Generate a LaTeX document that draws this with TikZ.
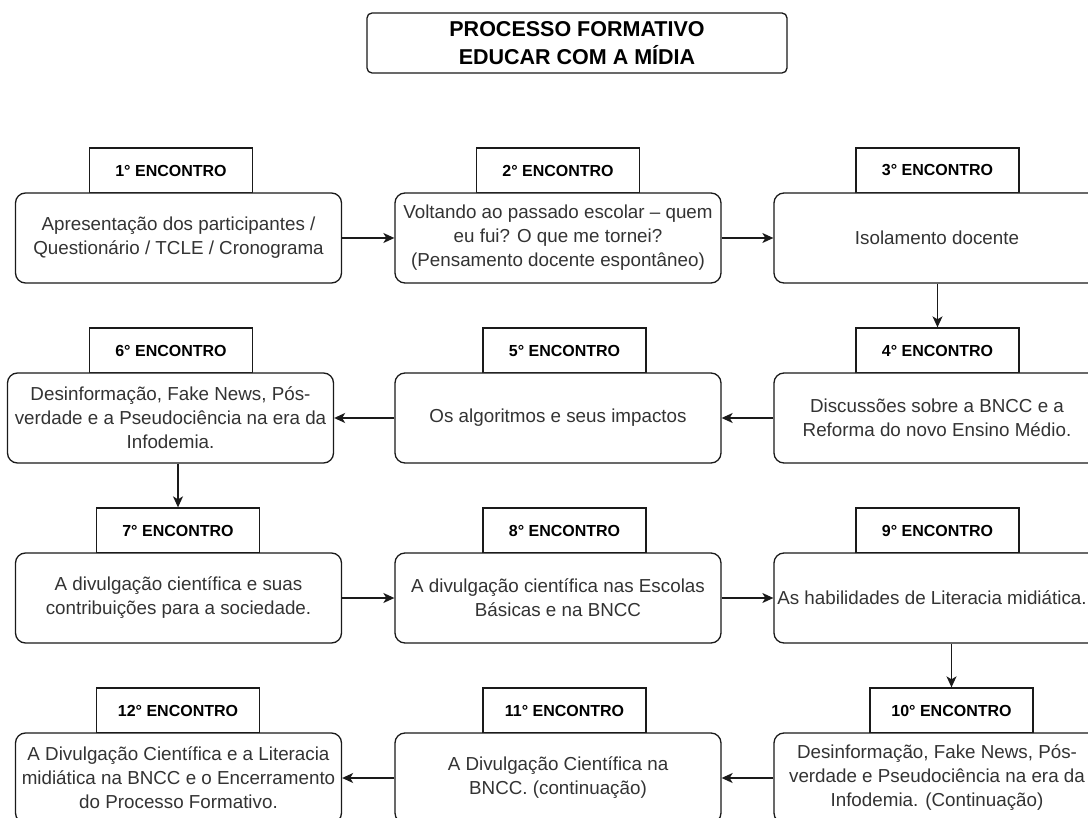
\documentclass[tikz,border=0pt]{standalone}
\usepackage{fontspec}
\setmainfont{Liberation Sans}
\usetikzlibrary{arrows.meta}
\definecolor{linec}{HTML}{1A1A1A}
\definecolor{textc}{HTML}{333333}
\tikzset{
  mainbox/.style={draw=linec, line width=1.3pt, rounded corners=10pt, fill=white,
    minimum width=326pt, minimum height=90pt, inner sep=0pt, align=center,
    text=textc, font=\fontsize{18.8}{24}\selectfont},
  labelbox/.style={draw=linec, line width=1.3pt, fill=white,
    minimum width=163pt, minimum height=45pt, inner sep=0pt, align=center,
    text=black, font=\fontsize{16}{19}\selectfont\bfseries},
  titlebox/.style={draw=linec, line width=1.3pt, rounded corners=5pt, fill=white,
    minimum width=420pt, minimum height=60pt, inner sep=0pt, align=center,
    text=black, font=\fontsize{21.5}{28}\selectfont\bfseries},
  flow/.style={draw=linec, line width=1.3pt, -{Stealth[length=11pt,width=10pt,inset=3pt]}}
}
\begin{document}
\begin{tikzpicture}[x=1pt,y=-1pt]
\useasboundingbox (0,0) rectangle (1088,818);
\clip (0,0) rectangle (1088,818);
\fill[white] (0,0) rectangle (1088,818);

\node[titlebox] (title) at (577,43) {PROCESSO FORMATIVO\\EDUCAR COM A MÍDIA};

% row 1
\node[labelbox] (l1) at (171,170.5) {1° ENCONTRO};
\node[mainbox] (m1) at (178.5,238) {Apresentação dos participantes /\\Questionário / TCLE / Cronograma};
\node[labelbox] (l2) at (558,170.5) {2° ENCONTRO};
\node[mainbox] (m2) at (558,238) {Voltando ao passado escolar – quem\\eu fui? O que me tornei?\\(Pensamento docente espontâneo)};
\node[labelbox] (l3) at (937.5,170.5) {3° ENCONTRO};
\node[mainbox] (m3) at (937,238) {Isolamento docente};

% row 2
\node[labelbox] (l6) at (171,350.5) {6° ENCONTRO};
\node[mainbox] (m6) at (170.5,418) {Desinformação, Fake News, Pós-\\verdade e a Pseudociência na era da\\Infodemia.};
\node[labelbox] (l5) at (564.5,350.5) {5° ENCONTRO};
\node[mainbox] (m5) at (558,418) {Os algoritmos e seus impactos};
\node[labelbox] (l4) at (937.5,350.5) {4° ENCONTRO};
\node[mainbox] (m4) at (937,418) {Discussões sobre a BNCC e a\\Reforma do novo Ensino Médio.};

% row 3
\node[labelbox] (l7) at (178,530.5) {7° ENCONTRO};
\node[mainbox] (m7) at (178.5,598) {A divulgação científica e suas\\contribuições para a sociedade.};
\node[labelbox] (l8) at (564.5,530.5) {8° ENCONTRO};
\node[mainbox] (m8) at (558,598) {A divulgação científica nas Escolas\\Básicas e na BNCC};
\node[labelbox] (l9) at (937.5,530.5) {9° ENCONTRO};
\node[mainbox] (m9) at (937,598) {\makebox[0pt]{\hspace{-10pt}As habilidades de Literacia midiática.}};

% row 4
\node[labelbox] (l12) at (178,710.5) {12° ENCONTRO};
\node[mainbox] (m12) at (178.5,778) {A Divulgação Científica e a Literacia\\midiática na BNCC e o Encerramento\\do Processo Formativo.};
\node[labelbox] (l11) at (564.5,710.5) {11° ENCONTRO};
\node[mainbox] (m11) at (558,778) {A Divulgação Científica na\\BNCC. (continuação)};
\node[labelbox] (l10) at (951.5,710.5) {10° ENCONTRO};
\node[mainbox] (m10) at (937,778) {Desinformação, Fake News, Pós-\\verdade e Pseudociência na era da\\Infodemia. (Continuação)};

% connectors
\draw[flow] (m1.east) -- (m2.west);
\draw[flow] (m2.east) -- (m3.west);
\draw[flow] (m3.south -| l4.north) -- (l4.north);
\draw[flow] (m4.west) -- (m5.east);
\draw[flow] (m5.west) -- (m6.east);
\draw[flow] (m6.south -| l7.north) -- (l7.north);
\draw[flow] (m7.east) -- (m8.west);
\draw[flow] (m8.east) -- (m9.west);
\draw[flow] (m9.south -| l10.north) -- (l10.north);
\draw[flow] (m10.west) -- (m11.east);
\draw[flow] (m11.west) -- (m12.east);
\end{tikzpicture}
\end{document}
